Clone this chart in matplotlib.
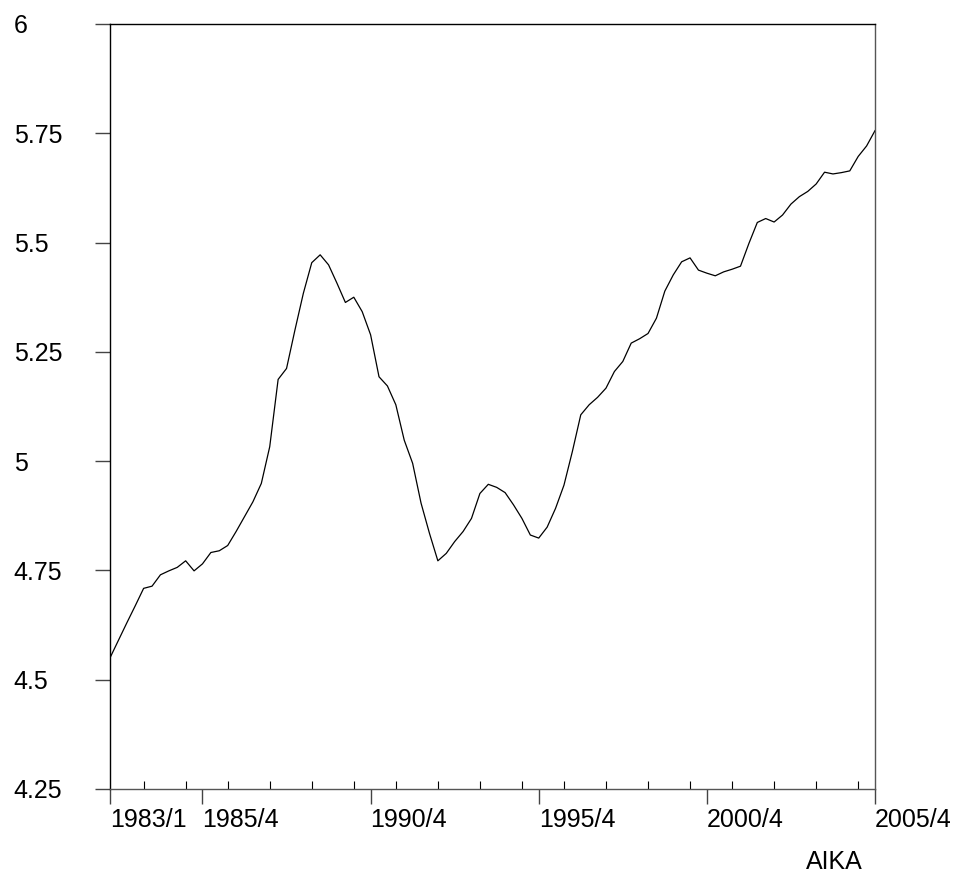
"""Quarterly series 1983/1 - 2005/4 (AIKA)."""
import matplotlib
matplotlib.use("Agg")
import matplotlib.pyplot as plt
import numpy as np

plt.rcParams["font.family"] = ["Liberation Sans", "DejaVu Sans"]

# values, one per quarter from 1983/1 to 2005/4
values = [
    4.550, 4.590, 4.630, 4.669, 4.709, 4.714, 4.740, 4.749, 4.757, 4.772,
    4.749, 4.765, 4.791, 4.795, 4.807, 4.839, 4.873, 4.907, 4.949, 5.033,
    5.187, 5.212, 5.300, 5.384, 5.454, 5.472, 5.449, 5.407, 5.363, 5.375,
    5.342, 5.289, 5.193, 5.172, 5.129, 5.048, 4.995, 4.904, 4.835, 4.772,
    4.789, 4.816, 4.839, 4.869, 4.926, 4.947, 4.940, 4.928, 4.900, 4.869,
    4.831, 4.824, 4.849, 4.892, 4.945, 5.022, 5.106, 5.129, 5.146, 5.167,
    5.205, 5.228, 5.270, 5.280, 5.292, 5.327, 5.389, 5.426, 5.456, 5.465,
    5.437, 5.430, 5.424, 5.433, 5.439, 5.446, 5.498, 5.546, 5.555, 5.547,
    5.563, 5.588, 5.605, 5.617, 5.634, 5.661, 5.657, 5.660, 5.664, 5.697,
    5.721, 5.756,
]
quarters = [f"{1983 + i // 4}/{i % 4 + 1}" for i in range(len(values))]
major_labels = ["1983/1", "1985/4", "1990/4", "1995/4", "2000/4", "2005/4"]
y_ticks = [4.25, 4.5, 4.75, 5.0, 5.25, 5.5, 5.75, 6.0]
y_labels = ["4.25", "4.5", "4.75", "5", "5.25", "5.5", "5.75", "6"]
x_label = "AIKA"

W, H = 959, 877
fig = plt.figure(figsize=(W / 100, H / 100), dpi=100)
ax = fig.add_axes([110 / W, 88 / H, 765 / W, 765 / H])

x = np.arange(len(values))
ax.plot(x, values, color="black", lw=0.9)
ax.set_xlim(0, len(values) - 1)
ax.set_ylim(4.25, 6.0)

for side in ("left", "top", "bottom", "right"):
    ax.spines[side].set_linewidth(1.0)
    ax.spines[side].set_color("black")
ax.spines["bottom"].set_color("#555555")
ax.spines["right"].set_color("#555555")

# x axis: major ticks with labels, minor ticks every 5 quarters
major_pos = [quarters.index(q) for q in major_labels]
ax.set_xticks(major_pos)
ax.set_xticklabels(major_labels)
ax.set_xticks(np.arange(4, len(values), 5), minor=True)
ax.tick_params(axis="x", which="major", direction="out", length=10.5,
               width=1.0, pad=3.0, labelsize=18, top=False, color="#444444")
ax.tick_params(axis="x", which="minor", direction="in", length=5.8,
               width=0.8, top=False)
for lbl in ax.get_xticklabels():
    lbl.set_horizontalalignment("left")

# y axis: labels flushed left at the figure edge
ax.set_yticks(y_ticks)
ax.set_yticklabels(y_labels)
ax.tick_params(axis="y", direction="out", length=10.8, width=1.0,
               pad=58.5, labelsize=18, right=False, color="#444444")
for lbl in ax.get_yticklabels():
    lbl.set_horizontalalignment("left")

ax.set_xlabel(x_label, fontsize=18, ha="center", va="center")
ax.xaxis.set_label_coords((834 - 110) / 765, (789 - 862) / 765)

fig.savefig("out.png", dpi=100)
